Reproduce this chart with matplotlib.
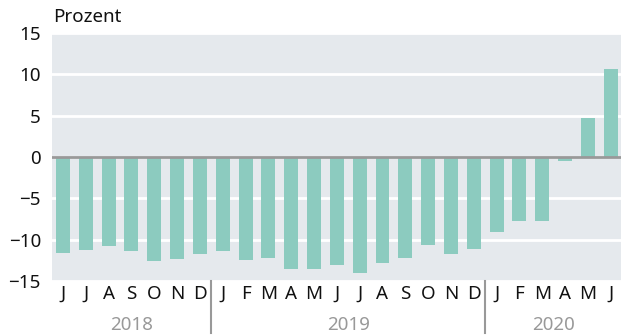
import matplotlib.pyplot as plt

plt.rcParams['font.family'] = ['Noto Sans', 'DejaVu Sans']

months = ["J", "J", "A", "S", "O", "N", "D",
          "J", "F", "M", "A", "M", "J", "J", "A", "S", "O", "N", "D",
          "J", "F", "M", "A", "M", "J"]
values = [-11.6, -11.3, -10.8, -11.4, -12.6, -12.3, -11.7,
          -11.4, -12.4, -12.2, -13.5, -13.6, -13.1, -14.0, -12.8, -12.2, -10.7, -11.7, -11.1,
          -9.1, -7.8, -7.7, -0.5, 4.7, 10.6]
years = ["2018", "2019", "2020"]
year_spans = [(0, 6), (7, 18), (19, 24)]

bar_color = '#8ccbbf'
bg_color = '#e5e9ed'
fs = 13.5

fig = plt.figure(figsize=(6.21, 3.36), dpi=100)
ax = fig.add_axes([52 / 621, 1 - 281 / 336, 1 - 52 / 621, (281 - 33) / 336])
ax.set_facecolor(bg_color)

x = list(range(len(values)))
ax.bar(x, values, width=0.61, color=bar_color, zorder=2)

ax.set_ylim(-15, 15)
ax.set_xlim(-0.48, 24.45)
ax.set_yticks([-15, -10, -5, 0, 5, 10, 15])
ax.set_yticklabels(['\u221215', '\u221210', '\u22125', '0', '5', '10', '15'])
ax.yaxis.grid(True, color='white', linewidth=2, zorder=1)
ax.axhline(0, color='#999999', linewidth=2, zorder=3)
ax.set_axisbelow(True)

for s in ax.spines.values():
    s.set_visible(False)
ax.tick_params(axis='y', length=0, labelsize=fs, pad=8, labelcolor='#111111')
ax.tick_params(axis='x', length=0, labelsize=fs, pad=3, labelcolor='#111111')
ax.set_xticks(x)
ax.set_xticklabels(months)

# year labels and separators below the month ticks
for yr, (a, b) in zip(years, year_spans):
    ax.text((a + b) / 2, -0.176, yr, transform=ax.get_xaxis_transform(),
            ha='center', va='center', fontsize=fs, color='#999999')
for sep in [6.5, 18.5]:
    ax.plot([sep, sep], [0, -0.21], transform=ax.get_xaxis_transform(),
            color='#999999', linewidth=1.5, clip_on=False)

fig.text(53 / 621, 1 - 17 / 336, 'Prozent', ha='left', va='center',
         fontsize=fs, color='#111111')

fig.savefig('out.png', dpi=100)
